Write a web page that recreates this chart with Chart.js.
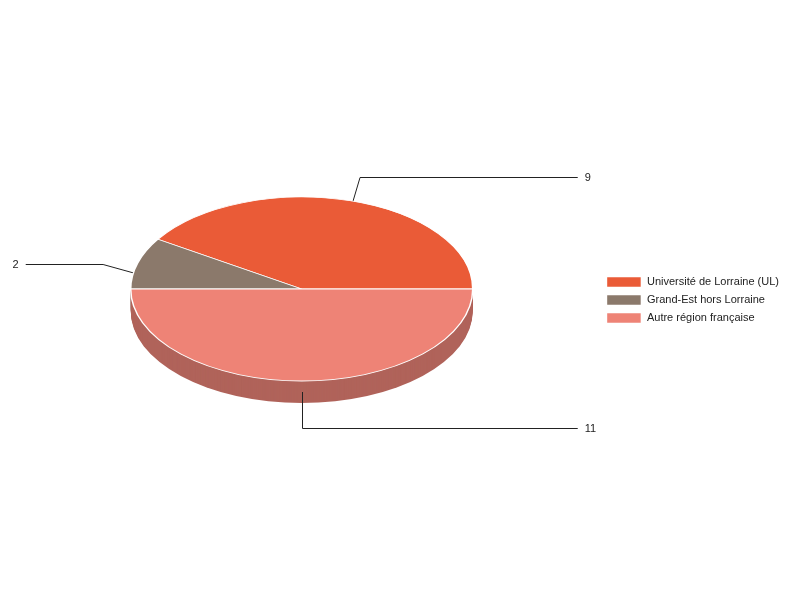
<!DOCTYPE html>
<html>
<head>
<meta charset="utf-8">
<script src="https://cdn.jsdelivr.net/npm/chart.js@4/dist/chart.umd.min.js"></script>
<style>
  html, body { margin: 0; padding: 0; background: #ffffff; }
  #wrap { width: 800px; height: 600px; position: relative; }
</style>
</head>
<body>
<div id="wrap"><canvas id="c"></canvas></div>
<script>
// ---- data ----
const categories = ['Université de Lorraine (UL)', 'Grand-Est hors Lorraine', 'Autre région française'];
const values = [9, 2, 11];
const topColors = ['#ea5b37', '#8b796b', '#ee8376'];
const sideColors = ['#a8462c', '#665950', '#b0635a'];

// ---- style constants ----
const RX = 171;          // horizontal radius (px)
const RY = 92;           // vertical radius of the top ellipse (px)
const DEPTH = 22;        // thickness of the pie (px)
const LEADER = 36;       // length of the radial part of leader lines
const REACH = 276;       // horizontal reach of leader lines from centre
const FONT = 'Arial, "Liberation Sans", sans-serif';

const pie3d = {
  id: 'pie3d',
  beforeDatasetsDraw(chart) {
    const meta = chart.getDatasetMeta(0);
    const arcs = meta.data;
    if (!arcs.length) return;
    const ctx = chart.ctx;
    const cx = arcs[0].x, cy = arcs[0].y;
    const r = arcs[0].outerRadius;
    const k = RY / r;
    const cyTop = cy - DEPTH / 2;

    // side walls
    for (let d = DEPTH; d >= 1; d--) {
      ctx.save();
      ctx.translate(cx, cyTop + d);
      ctx.scale(1, -k);
      ctx.translate(-cx, -cy);
      arcs.forEach((a, i) => {
        ctx.beginPath();
        ctx.moveTo(cx, cy);
        ctx.arc(cx, cy, r, a.startAngle, a.endAngle);
        ctx.closePath();
        ctx.fillStyle = sideColors[i];
        ctx.fill();
      });
      ctx.restore();
    }

    // leader lines + value labels (anchored at mid-depth)
    ctx.save();
    ctx.strokeStyle = '#222';
    ctx.lineWidth = 1;
    ctx.fillStyle = '#222';
    ctx.font = '11px ' + FONT;
    ctx.textBaseline = 'middle';
    arcs.forEach((a, i) => {
      const m = (a.startAngle + a.endAngle) / 2;
      const c = Math.cos(m), s = Math.sin(m);
      const ax = cx + r * c;
      const ay = cyTop - RY * s + DEPTH / 2;
      const ex = ax + LEADER * c;
      const ey = Math.round(ay - LEADER * s) + 0.5;
      const right = Math.round(c * 1000) >= 0;
      const hx = right ? cx + REACH : cx - REACH;
      ctx.beginPath();
      ctx.moveTo(Math.abs(c) < 1e-3 ? Math.round(ax) + 0.5 : ax, ay);
      ctx.lineTo(Math.abs(c) < 1e-3 ? Math.round(ex) + 0.5 : ex, ey);
      ctx.lineTo(hx, ey);
      ctx.stroke();
      ctx.textAlign = right ? 'left' : 'right';
      ctx.fillText(String(values[i]), right ? hx + 7 : hx - 7, ey);
    });
    ctx.restore();

    // top face transform (Chart.js draws the arcs)
    ctx.save();
    ctx.translate(cx, cyTop);
    ctx.scale(1, -k);
    ctx.translate(-cx, -cy);
  },
  afterDatasetsDraw(chart) {
    chart.ctx.restore();
  }
};

new Chart(document.getElementById('c'), {
  type: 'pie',
  data: {
    labels: categories,
    datasets: [{
      data: values,
      backgroundColor: topColors,
      borderColor: '#ffffff',
      borderWidth: 1.5
    }]
  },
  options: {
    responsive: true,
    maintainAspectRatio: false,
    animation: false,
    events: [],
    rotation: 90,
    radius: RX,
    layout: { padding: { left: 4, right: 11, top: 0, bottom: 0 } },
    plugins: {
      tooltip: { enabled: false },
      legend: {
        position: 'right',
        labels: {
          boxWidth: 35,
          boxHeight: 11,
          padding: 7,
          color: '#222',
          font: { size: 11, family: FONT }
        }
      }
    }
  },
  plugins: [pie3d]
});
</script>
</body>
</html>
